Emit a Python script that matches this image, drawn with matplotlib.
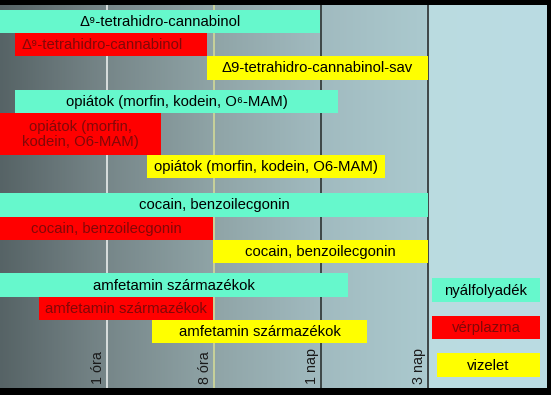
import matplotlib
matplotlib.use("Agg")
import matplotlib.pyplot as plt
import numpy as np
from matplotlib.colors import LinearSegmentedColormap

plt.rcParams['font.family'] = ['Liberation Sans', 'DejaVu Sans']

# ---- data ----
tick_labels = ['1 óra', '8 óra', '1 nap', '3 nap']
tick_pos = [1, 2, 3, 4]

saliva_labels = ['Δ⁹-tetrahidro-cannabinol', 'opiátok (morfin, kodein, O⁶-MAM)',
                 'cocain, benzoilecgonin', 'amfetamin származékok']
saliva_start = [0.0, 0.14, 0.0, 0.0]
saliva_end = [2.99, 3.16, 4.0, 3.25]

plasma_labels = ['Δ⁹-tetrahidro-cannabinol', 'opiátok (morfin,\nkodein, O6-MAM)',
                 'cocain, benzoilecgonin', 'amfetamin származékok']
plasma_start = [0.14, 0.0, 0.0, 0.36]
plasma_end = [1.93, 1.50, 1.99, 1.99]

urine_labels = ['Δ9-tetrahidro-cannabinol-sav', 'opiátok (morfin, kodein, O6-MAM)',
                'cocain, benzoilecgonin', 'amfetamin származékok']
urine_start = [1.93, 1.37, 1.99, 1.42]
urine_end = [4.0, 3.60, 4.0, 3.43]

legend_labels = ['nyálfolyadék', 'vérplazma', 'vizelet']

# ---- style / layout ----
C_SAL = '#66f8cc'
C_PLA = '#ff0000'
C_URI = '#ffff00'
T_PLA = '#820808'
UNIT = 107.0  # px per time unit
FS = 10.7

W, H = 551, 395
fig = plt.figure(figsize=(W / 100, H / 100), dpi=100, facecolor='black')
ax = fig.add_axes([0, 7 / H, 547 / W, 383 / H])
xmax = 547 / UNIT
ax.set_xlim(0, xmax)
ax.set_ylim(388, 5)
ax.axis('off')

# background gradient
cmap = LinearSegmentedColormap.from_list('bg', [
    (0.0, (0.34, 0.39, 0.40)),
    (100 / 547, (0.46, 0.52, 0.53)),
    (210 / 547, (0.56, 0.64, 0.65)),
    (320 / 547, (0.63, 0.73, 0.75)),
    (427 / 547, (0.67, 0.79, 0.81)),
    (430 / 547, (0.73, 0.86, 0.88)),
    (1.0, (0.73, 0.86, 0.89)),
])
grad = np.linspace(0, 1, 600).reshape(1, -1)
ax.imshow(grad, cmap=cmap, aspect='auto', extent=[0, xmax, 388, 5], zorder=0)

# vertical lines
line_colors = ['#d8dede', '#c8d29a', '#3e4646', '#3e4646']
for p, c in zip(tick_pos, line_colors):
    ax.plot([p, p], [5, 388], color=c, lw=1.4, zorder=1)
for p, lab in zip(tick_pos, tick_labels):
    ax.text(p - 9 / UNIT, 384, lab, rotation=90, ha='center', va='bottom',
            fontsize=10.3, color='#1a1a1a', zorder=2)

# bars: rows (top, height) per group
group_tops = [10, 90, 193, 273]
rows = [(0, 23, 23, 24), (0, 23, 42, 23), (0, 24, 23, 23), (0, 24, 23, 23)]


def bar(x0, x1, ytop, h, color, label, tcolor, dx=0.0):
    ax.barh(ytop + h / 2, x1 - x0, left=x0, height=h, color=color, zorder=3)
    ax.text((x0 + x1) / 2 + dx, ytop + h / 2 + 0.5, label, ha='center', va='center',
            fontsize=FS, color=tcolor, zorder=4, linespacing=1.05)


for g in range(4):
    t = group_tops[g]
    _, h1, h2, h3 = rows[g]
    bar(saliva_start[g], saliva_end[g], t, h1, C_SAL, saliva_labels[g], 'black')
    bar(plasma_start[g], plasma_end[g], t + h1, h2, C_PLA, plasma_labels[g], T_PLA,
        dx=(-9 / UNIT if g == 0 else 0.0))
    bar(urine_start[g], urine_end[g], t + h1 + h2, h3, C_URI, urine_labels[g], 'black')

# legend boxes
leg = [(432 / UNIT, 540 / UNIT, 278, 24, C_SAL, 'black'),
       (432 / UNIT, 540 / UNIT, 316, 23, C_PLA, T_PLA),
       (437 / UNIT, 540 / UNIT, 353, 24, C_URI, 'black')]
for (x0, x1, yt, h, c, tc), lab in zip(leg, legend_labels):
    bar(x0, x1, yt, h, c, lab, tc)

fig.savefig('out.png', dpi=100, facecolor='black')
